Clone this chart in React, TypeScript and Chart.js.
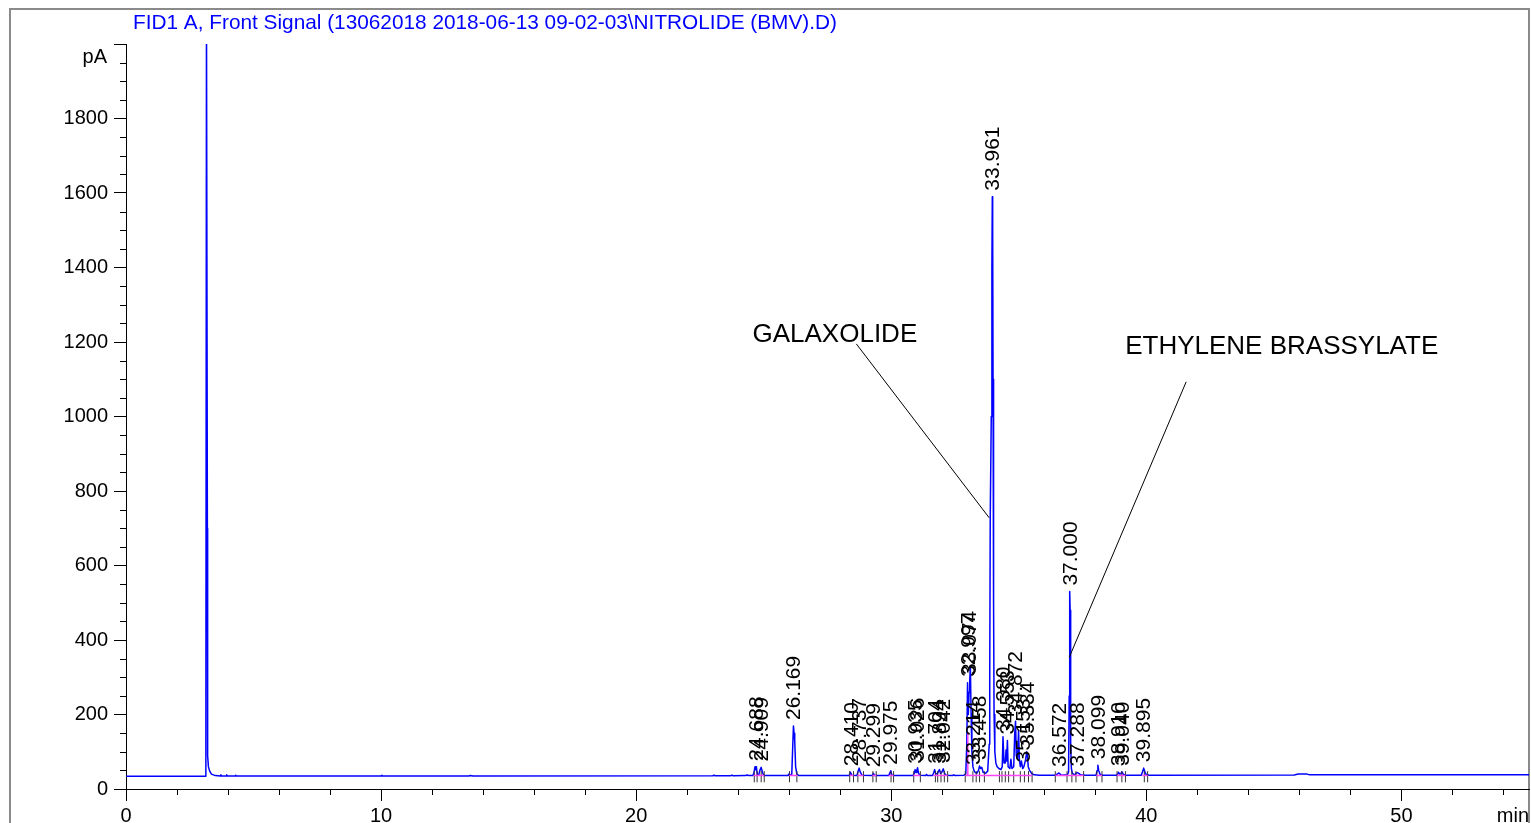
import React, { useEffect, useRef } from "react";
import { Chart, registerables } from "chart.js";

Chart.register(...registerables);

const FONT = '"Liberation Sans", Arial, Helvetica, sans-serif';
const TITLE = "FID1 A, Front Signal (13062018 2018-06-13 09-02-03\\NITROLIDE (BMV).D)";

// Detector signal: [time (min), signal (pA)]
const signalTrace: [number, number][] = [
  [0, 34], [3.13, 34], [3.155, 2100], [3.175, 2100], [3.19, 700], [3.2, 90], [3.23, 60], [3.28, 48],
  [3.35, 40], [3.5, 36], [3.7, 35], [3.72, 38], [3.75, 35], [3.93, 35], [3.95, 38], [3.98, 35],
  [4.28, 35], [4.3, 37], [4.33, 35],
  [10.0, 35], [10.03, 37], [10.06, 35],
  [13.45, 35], [13.5, 36.5], [13.6, 35],
  [23.0, 35.5], [23.05, 37], [23.1, 35.5], [23.7, 35.5], [23.75, 37.5], [23.8, 35.5], [24.3, 36], [24.35, 38], [24.4, 36],
  [24.58, 36], [24.62, 45], [24.66, 60], [24.69, 52], [24.71, 60], [24.75, 38], [24.8, 37], [24.85, 50], [24.9, 58], [24.95, 45], [25.0, 36],
  [25.95, 36], [25.98, 40], [26.01, 36], [26.1, 40], [26.14, 120], [26.165, 169], [26.19, 150], [26.215, 130], [26.25, 60], [26.3, 40], [26.38, 36],
  [28.35, 36], [28.4, 45], [28.45, 37], [28.65, 36], [28.7, 48], [28.74, 56], [28.78, 46], [28.85, 37],
  [29.25, 36], [29.3, 42], [29.35, 36],
  [29.9, 36], [29.95, 44], [29.98, 49], [30.02, 38], [30.08, 36],
  [30.85, 36], [30.9, 42], [30.935, 52], [30.97, 44], [31.0, 50], [31.03, 57], [31.07, 42], [31.12, 37],
  [31.35, 36], [31.38, 39], [31.42, 36], [31.62, 36], [31.67, 45], [31.7, 52], [31.74, 42], [31.8, 40], [31.85, 48], [31.89, 52],
  [31.93, 42], [31.98, 45], [32.04, 54], [32.09, 42], [32.15, 37], [32.4, 36], [32.45, 38], [32.5, 36],
  [32.85, 37], [32.92, 40], [32.96, 120], [32.99, 285], [33.02, 200], [33.05, 260], [33.075, 290], [33.1, 330], [33.13, 200],
  [33.16, 100], [33.2, 60], [33.24, 50], [33.28, 45], [33.35, 42], [33.42, 50], [33.46, 62], [33.5, 55], [33.55, 58], [33.6, 45],
  [33.7, 42], [33.78, 48], [33.84, 120], [33.86, 300], [33.88, 730], [33.92, 1000], [33.945, 1400], [33.961, 1590], [33.975, 1500],
  [33.99, 1100], [34.01, 500], [34.03, 200], [34.06, 100], [34.1, 70], [34.15, 60], [34.22, 55], [34.3, 52],
  [34.35, 60], [34.38, 140], [34.42, 70], [34.47, 70], [34.5, 105], [34.52, 75], [34.553, 130], [34.58, 60], [34.65, 55], [34.69, 80],
  [34.73, 55], [34.8, 60], [34.84, 150], [34.872, 182], [34.9, 90], [34.95, 80], [34.99, 158], [35.02, 80], [35.06, 60], [35.1, 75],
  [35.153, 55], [35.2, 60], [35.27, 80], [35.31, 100], [35.334, 95], [35.37, 60], [35.42, 50], [35.5, 42], [35.6, 38], [35.8, 37],
  [36.45, 37], [36.5, 40], [36.572, 43], [36.62, 40], [36.67, 37],
  [36.9, 38], [36.95, 45], [36.975, 250], [36.99, 450], [37.0, 530], [37.012, 480], [37.025, 300], [37.04, 120], [37.06, 55], [37.1, 42],
  [37.2, 38], [37.25, 43], [37.288, 44], [37.35, 42], [37.42, 38], [37.6, 37],
  [38.03, 37], [38.07, 50], [38.099, 64], [38.13, 50], [38.18, 40], [38.25, 37],
  [38.85, 37], [38.91, 45], [38.95, 40], [39.0, 41], [39.04, 46], [39.1, 39], [39.2, 37],
  [39.8, 37], [39.86, 48], [39.895, 56], [39.93, 48], [39.98, 40], [40.1, 37],
  [45.8, 37.5], [45.95, 40], [46.3, 40], [46.4, 38], [55, 38],
];

// Integrated peaks: retention times (min) and apex heights (pA)
const peakTimes = [
  24.688, 24.909, 26.169, 28.41, 28.737, 29.299, 29.975, 30.935, 31.026, 31.704, 31.894, 32.042,
  32.997, 33.074, 33.214, 33.458, 33.961, 34.38, 34.553, 34.872, 35.153, 35.334, 36.572, 37.0,
  37.288, 38.099, 38.91, 39.04, 39.895,
];
const peakHeights = [
  60, 58, 169, 45, 56, 42, 49, 52, 57, 52, 52, 54,
  285, 290, 48, 62, 1590, 140, 130, 182, 55, 100, 43, 530,
  44, 64, 45, 46, 56,
];

// Integration baselines (start, end in min) at the baseline level
const integrationStarts = [24.6, 26.0, 28.37, 28.67, 29.26, 29.9, 30.86, 31.65, 32.9, 36.43, 38.04, 38.85, 39.84];
const integrationEnds = [25.02, 26.32, 28.52, 28.91, 29.41, 30.09, 31.14, 32.21, 35.52, 37.54, 38.26, 39.18, 40.05];
const integrationLevel = 36.5;
const dropLineTimes = [33.0];
const dropLineTops = [150];

// Peak start / end event marks (min)
const eventTimes = [
  24.63, 24.74, 24.9, 25.02, 26.01, 26.3, 28.37, 28.52, 28.69, 28.91, 29.28, 29.41, 29.99, 30.09,
  30.88, 31.14, 31.73, 31.82, 31.95, 32.08, 32.21, 32.9, 33.2, 33.33, 33.46, 33.65, 34.24, 34.34,
  34.47, 34.6, 34.8, 35.06, 35.22, 35.38, 35.52, 36.43, 36.89, 37.08, 37.24, 37.54, 38.06, 38.26,
  38.85, 39.04, 39.18, 39.92, 40.05,
];
const eventLow = 18;
const eventHigh = 48;

// Compound annotations
const annotationTexts = ["GALAXOLIDE", "ETHYLENE BRASSYLATE"];
const annotationX = [24.56, 39.17];
const annotationY = [1219, 1187];
const leaderFromX = [28.63, 41.56];
const leaderFromY = [1195, 1093];
const leaderToX = [33.84, 36.98];
const leaderToY = [728, 354];

// Axes
const X_MIN = 0;
const X_MAX = 55;
const X_STEP = 10;
const X_MINOR = 2;
const Y_MIN = 0;
const Y_MAX = 2000;
const Y_STEP = 200;
const Y_MINOR = 50;
const Y_UNIT = "pA";
const X_UNIT = "min";

export default function App() {
  const ref = useRef<HTMLCanvasElement | null>(null);

  useEffect(() => {
    const canvas = ref.current;
    if (!canvas) return;

    const integ: any[] = [];
    integrationStarts.forEach((s, i) => {
      integ.push({ x: s, y: integrationLevel }, { x: integrationEnds[i], y: integrationLevel }, { x: integrationEnds[i], y: null });
    });
    dropLineTimes.forEach((t, i) => {
      integ.push({ x: t, y: integrationLevel }, { x: t, y: dropLineTops[i] }, { x: t, y: null });
    });
    const events: any[] = [];
    eventTimes.forEach((t) => {
      events.push({ x: t, y: eventLow }, { x: t, y: eventHigh }, { x: t, y: null });
    });

    const deco = {
      id: "deco",
      beforeDraw(chart: any) {
        const ctx = chart.ctx;
        ctx.save();
        ctx.fillStyle = "#fff";
        ctx.fillRect(0, 0, chart.width, chart.height);
        ctx.fillStyle = "#8a8a8a";
        ctx.fillRect(9, 8, 2, chart.height);
        ctx.fillRect(9, 8, 1521, 2);
        ctx.fillRect(1528, 8, 2, chart.height);
        ctx.fillStyle = "#0000ff";
        ctx.font = `20.8px ${FONT}`;
        ctx.textAlign = "left";
        ctx.textBaseline = "alphabetic";
        ctx.fillText(TITLE, 133, 29);
        ctx.restore();
      },
      afterDatasetsDraw(chart: any) {
        const ctx = chart.ctx;
        const xs = chart.scales.x;
        const ys = chart.scales.y;
        ctx.save();
        // peak labels
        ctx.fillStyle = "#000";
        ctx.font = `21px ${FONT}`;
        ctx.textAlign = "left";
        ctx.textBaseline = "middle";
        peakTimes.forEach((t, i) => {
          const px = xs.getPixelForValue(t);
          const py = ys.getPixelForValue(peakHeights[i]) - 6;
          ctx.save();
          ctx.translate(px + 1, py);
          ctx.rotate(-Math.PI / 2);
          ctx.fillText(t.toFixed(3), 0, 0);
          ctx.restore();
        });
        // annotations
        ctx.strokeStyle = "#000";
        ctx.lineWidth = 1;
        annotationTexts.forEach((txt, i) => {
          ctx.beginPath();
          ctx.moveTo(xs.getPixelForValue(leaderFromX[i]), ys.getPixelForValue(leaderFromY[i]));
          ctx.lineTo(xs.getPixelForValue(leaderToX[i]), ys.getPixelForValue(leaderToY[i]));
          ctx.stroke();
          ctx.font = `26px ${FONT}`;
          ctx.textBaseline = "middle";
          ctx.fillText(txt, xs.getPixelForValue(annotationX[i]), ys.getPixelForValue(annotationY[i]));
        });
        // minor ticks
        ctx.beginPath();
        const left = chart.chartArea.left;
        const bottom = chart.chartArea.bottom;
        for (let v = Y_MIN; v <= Y_MAX; v += Y_MINOR) {
          if (v % Y_STEP === 0) continue;
          const py = Math.round(ys.getPixelForValue(v)) + 0.5;
          ctx.moveTo(left - 6, py);
          ctx.lineTo(left, py);
        }
        for (let v = X_MIN; v <= X_MAX; v += X_MINOR) {
          if (v % X_STEP === 0) continue;
          const px = Math.round(xs.getPixelForValue(v)) + 0.5;
          ctx.moveTo(px, bottom);
          ctx.lineTo(px, bottom + 6);
        }
        ctx.stroke();
        // units
        ctx.font = `20px ${FONT}`;
        ctx.textAlign = "right";
        ctx.textBaseline = "middle";
        ctx.fillText(Y_UNIT, left - 19, ys.getPixelForValue(Y_MAX) + 13);
        ctx.textBaseline = "alphabetic";
        ctx.fillText(X_UNIT, chart.chartArea.right, 822);
        ctx.restore();
      },
    };

    const chart = new Chart(canvas, {
      type: "line",
      data: {
        datasets: [
          {
            data: integ,
            borderColor: "#ff44ff",
            borderWidth: 1.5,
            pointRadius: 0,
            spanGaps: false,
          },
          {
            data: events,
            borderColor: "#333",
            borderWidth: 1,
            pointRadius: 0,
            spanGaps: false,
          },
          {
            data: signalTrace.map(([x, y]) => ({ x, y })),
            borderColor: "#0000ff",
            borderWidth: 1.5,
            borderJoinStyle: "round",
            pointRadius: 0,
            tension: 0,
          },
        ],
      },
      options: {
        responsive: false,
        maintainAspectRatio: false,
        animation: false,
        devicePixelRatio: 1,
        events: [],
        layout: { padding: { top: 44, right: 2, left: 0, bottom: 0 } },
        plugins: { legend: { display: false }, tooltip: { enabled: false }, title: { display: false } },
        scales: {
          x: {
            type: "linear",
            min: X_MIN,
            max: X_MAX,
            afterFit: (s: any) => {
              s.height = 34;
            },
            ticks: {
              stepSize: X_STEP,
              includeBounds: false,
              autoSkip: false,
              maxRotation: 0,
              color: "#000",
              padding: 3,
              font: { family: FONT, size: 20 },
            },
            grid: { drawOnChartArea: false, drawTicks: true, tickLength: 12, tickColor: "#000", tickWidth: 1 },
            border: { display: true, color: "#000", width: 1 },
          },
          y: {
            type: "linear",
            min: Y_MIN,
            max: Y_MAX,
            afterFit: (s: any) => {
              s.width = 126;
            },
            ticks: {
              stepSize: Y_STEP,
              autoSkip: false,
              color: "#000",
              padding: 6,
              font: { family: FONT, size: 20 },
              callback: (v: any) => (v === Y_MAX ? "" : String(v)),
            },
            grid: { drawOnChartArea: false, drawTicks: true, tickLength: 12, tickColor: "#000", tickWidth: 1 },
            border: { display: true, color: "#000", width: 1 },
          },
        },
      } as any,
      plugins: [deco],
    });
    return () => chart.destroy();
  }, []);

  return (
    <div style={{ position: "absolute", left: 0, top: 0, width: 1531, height: 823, background: "#fff" }}>
      <canvas ref={ref} width={1531} height={823} style={{ display: "block", width: 1531, height: 823 }} />
    </div>
  );
}
